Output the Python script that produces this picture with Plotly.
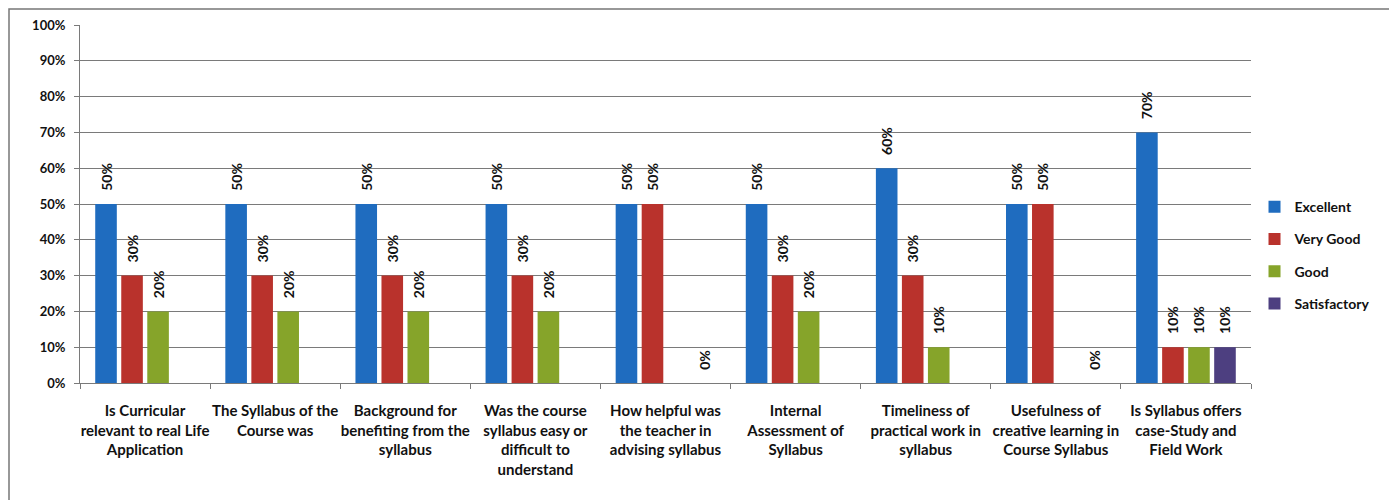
import plotly.graph_objects as go

categories = [
    "Is Curricular<br>relevant to real Life<br>Application",
    "The Syllabus of the<br>Course was",
    "Background for<br>benefiting from the<br>syllabus",
    "Was the course<br>syllabus easy or<br>difficult to<br>understand",
    "How helpful was<br>the teacher in<br>advising syllabus",
    "Internal<br>Assessment of<br>Syllabus",
    "Timeliness of<br>practical work in<br>syllabus",
    "Usefulness of<br>creative learning in<br>Course Syllabus",
    "Is Syllabus offers<br>case-Study and<br>Field Work",
]
excellent = [50, 50, 50, 50, 50, 50, 60, 50, 70]
very_good = [30, 30, 30, 30, 50, 30, 30, 50, 10]
good = [20, 20, 20, 20, None, 20, 10, None, 10]
satisfactory = [None, None, None, None, 0, None, None, 0, 10]

series = [
    ("Excellent", excellent, "#1f6cbf"),
    ("Very Good", very_good, "#b9322c"),
    ("Good", good, "#86a42a"),
    ("Satisfactory", satisfactory, "#4d3f80"),
]

FONT = "Lato"
PAD = "\u00a0\u00a0\u00a0"
fig = go.Figure()
for name, vals, col in series:
    fig.add_trace(go.Bar(
        name=name, x=categories, y=vals,
        marker=dict(color=col, line=dict(width=0)),
        text=[None if v is None else f"{PAD}{v}%" for v in vals],
        textposition="outside", textangle=-90, constraintext="none",
        textfont=dict(family=FONT, size=14, color="#111111", weight="bold"),
        cliponaxis=False, legendgroup=name,
    ))

W, H = 1389, 492
L, T, R, B = 72, 17, 146, 117
pw, ph = W - L - R, H - T - B

fig.update_layout(
    width=W, height=H,
    margin=dict(l=L, r=R, t=T, b=B, autoexpand=False),
    barmode="group", bargap=0.2, bargroupgap=0.17,
    plot_bgcolor="white", paper_bgcolor="white",
    font=dict(family=FONT, size=14, color="#111111"),
    legend=dict(x=1.003, y=0.357, xanchor="left", yanchor="middle",
                font=dict(family=FONT, size=14, color="#111111", weight="bold"),
                tracegroupgap=11, itemwidth=30),
    showlegend=True,
    shapes=[dict(type="rect", xref="paper", yref="paper",
                 x0=-(L - 1) / pw, x1=1 + (R - 6) / pw,
                 y0=-(B + 20) / ph, y1=1 + (T - 1) / ph,
                 line=dict(color="#777777", width=1.5))],
)
fig.update_yaxes(range=[0, 100], dtick=10, ticksuffix="%",
                 showgrid=True, gridcolor="#7a7a7a", gridwidth=1,
                 showline=True, linecolor="#7a7a7a", linewidth=1,
                 ticks="outside", ticklen=5, tickcolor="#7a7a7a",
                 ticklabelstandoff=6, automargin=False,
                 tickfont=dict(family=FONT, size=13, color="#111111", weight="bold"),
                 zeroline=False)
fig.update_xaxes(showline=True, linecolor="#7a7a7a", linewidth=1,
                 ticks="outside", ticklen=5, tickcolor="#7a7a7a",
                 tickson="boundaries", tickangle=0, automargin=False,
                 ticklabelstandoff=14,
                 tickfont=dict(family=FONT, size=15, color="#111111", weight="bold"))

fig.write_html("out.html")
